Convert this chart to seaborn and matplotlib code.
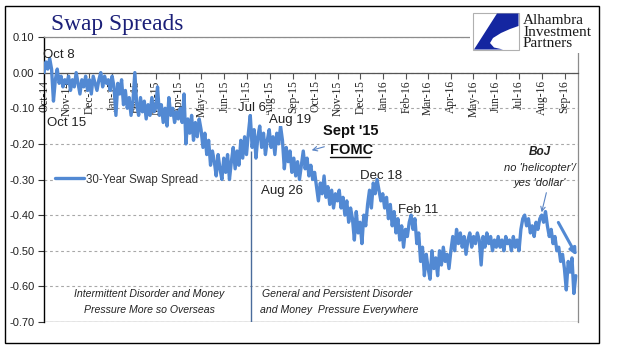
import matplotlib
matplotlib.use('Agg')
import matplotlib.pyplot as plt
import matplotlib.dates as mdates
import matplotlib.patches as mpatches
from matplotlib.lines import Line2D
import pandas as pd
import seaborn as sns

# ---------------- data ----------------
series_name = "30-Year Swap Spread"
start_date = "2014-10-01"
end_date = "2016-09-16"
x_min = "2014-10-01"
x_max = "2016-09-19"
y_ticks = [0.10, 0.00, -0.10, -0.20, -0.30, -0.40, -0.50, -0.60, -0.70]

oct14 = [0.00, 0.03, 0.01, 0.04, 0.01, -0.08, -0.02, 0.01, -0.03, -0.01, -0.04, -0.02]
nov14 = [-0.03, -0.01, -0.05, -0.02, -0.04, 0.00, -0.03, -0.06, -0.02, -0.04, -0.01, -0.05]
dec14 = [-0.02, -0.06, -0.01, -0.03, -0.05, -0.02, 0.00, -0.04, -0.01, -0.03, -0.02, -0.05]
jan15 = [-0.01, -0.04, -0.12, -0.03, -0.06, -0.02, -0.09, -0.05, -0.10, -0.07, -0.12, -0.08]
feb15 = [0.00, -0.09, -0.12, -0.07, -0.11, -0.08, -0.13, -0.09, -0.12, -0.07, -0.11, -0.10]
mar15 = [-0.04, -0.12, -0.09, -0.14, -0.10, -0.15, -0.07, -0.12, -0.10, -0.14, -0.11, -0.13]
apr15 = [-0.10, -0.14, -0.06, -0.20, -0.13, -0.17, -0.12, -0.19, -0.14, -0.18, -0.13, -0.16]
may15 = [-0.21, -0.17, -0.23, -0.19, -0.26, -0.22, -0.25, -0.29, -0.23, -0.27, -0.30, -0.24]
jun15 = [-0.28, -0.23, -0.30, -0.25, -0.21, -0.27, -0.22, -0.26, -0.19, -0.24, -0.18, -0.23]
jul15 = [-0.17, -0.12, -0.21, -0.16, -0.24, -0.18, -0.15, -0.21, -0.17, -0.23, -0.19, -0.16]
aug15 = [-0.21, -0.18, -0.23, -0.17, -0.20, -0.15, -0.19, -0.27, -0.21, -0.25, -0.22, -0.28]
sep15 = [-0.24, -0.29, -0.25, -0.30, -0.26, -0.22, -0.27, -0.24, -0.29, -0.26, -0.30, -0.28]
oct15 = [-0.32, -0.36, -0.31, -0.34, -0.29, -0.35, -0.32, -0.37, -0.33, -0.38, -0.34, -0.36]
nov15 = [-0.33, -0.38, -0.35, -0.40, -0.36, -0.42, -0.38, -0.41, -0.47, -0.39, -0.45, -0.42]
dec15 = [-0.48, -0.40, -0.43, -0.37, -0.33, -0.38, -0.31, -0.34, -0.30, -0.33, -0.36, -0.34]
jan16 = [-0.38, -0.35, -0.41, -0.37, -0.43, -0.39, -0.45, -0.41, -0.47, -0.43, -0.49, -0.44]
feb16 = [-0.46, -0.42, -0.40, -0.44, -0.41, -0.48, -0.45, -0.53, -0.49, -0.57, -0.51, -0.55]
mar16 = [-0.58, -0.50, -0.55, -0.52, -0.57, -0.50, -0.54, -0.49, -0.53, -0.51, -0.55, -0.50]
apr16 = [-0.46, -0.50, -0.44, -0.48, -0.45, -0.49, -0.46, -0.51, -0.47, -0.45, -0.49, -0.46]
may16 = [-0.48, -0.45, -0.47, -0.54, -0.46, -0.49, -0.45, -0.48, -0.46, -0.50, -0.47, -0.49]
jun16 = [-0.46, -0.49, -0.47, -0.50, -0.46, -0.48, -0.47, -0.50, -0.46, -0.49, -0.47, -0.50]
jul16 = [-0.44, -0.41, -0.40, -0.43, -0.41, -0.45, -0.43, -0.46, -0.42, -0.44, -0.41, -0.40]
aug16 = [-0.42, -0.39, -0.43, -0.46, -0.44, -0.48, -0.46, -0.50, -0.49, -0.53, -0.51, -0.55]
sep16 = [-0.61, -0.53, -0.56, -0.52, -0.62, -0.57]

spread = (oct14 + nov14 + dec14 + jan15 + feb15 + mar15 + apr15 + may15 + jun15
          + jul15 + aug15 + sep15 + oct15 + nov15 + dec15 + jan16 + feb16 + mar16
          + apr16 + may16 + jun16 + jul16 + aug16 + sep16)

regime_change_date = "2015-07-07"
regime_line_top = -0.22

# ---------------- styling ----------------
W, H = 622, 361
LINE = '#5289d3'
NAVY = '#1b1f78'
TXT = '#222222'
GRAY = '#8c8c8c'


def F(x, y):
    return (x / W, 1 - y / H)


sns.set_theme(style='white')
plt.rcParams['font.family'] = ['Liberation Sans', 'DejaVu Sans']

fig = plt.figure(figsize=(W / 100, H / 100), dpi=100)
fig.patch.set_facecolor('white')
ax = fig.add_axes([44 / W, 1 - 322 / H, (578 - 44) / W, (322 - 37) / H])

dates = pd.date_range(start_date, end_date, periods=len(spread))
df = pd.DataFrame({'date': dates, 'spread': spread})
sns.lineplot(data=df, x='date', y='spread', ax=ax, color=LINE, lw=2.4,
             label=series_name, zorder=4)

ax.set_xlim(pd.Timestamp(x_min), pd.Timestamp(x_max))
ax.set_ylim(-0.70, 0.10)
ax.set_xlabel('')
ax.set_ylabel('')

# y axis
ax.set_yticks(y_ticks)
ax.set_yticklabels([f'{v:.2f}' for v in y_ticks])
ax.tick_params(axis='y', which='both', left=True, direction='out', length=4,
               width=0.8, color='#333333', labelsize=8, labelcolor=TXT, pad=3)
ax.yaxis.grid(True, ls=(0, (2.5, 2.5)), color='#a8a8a8', lw=0.8)
ax.xaxis.grid(False)

# x axis at zero
ax.spines['bottom'].set_position(('data', 0))
ax.spines['bottom'].set_color('#555555')
ax.spines['bottom'].set_linewidth(0.9)
ax.spines['left'].set_color('black')
ax.spines['left'].set_linewidth(1.0)
ax.spines['top'].set_color(GRAY)
ax.spines['top'].set_linewidth(0.9)
ax.spines['right'].set_color(GRAY)
ax.spines['right'].set_linewidth(0.9)
ax.axhline(-0.70, color=GRAY, lw=1.0, zorder=3)

ax.xaxis.set_major_locator(mdates.MonthLocator())
ax.xaxis.set_major_formatter(mdates.DateFormatter('%b-%y'))
ax.tick_params(axis='x', which='both', bottom=True, direction='out', length=4,
               width=0.8, color='#555555', pad=1.5)
for lab in ax.get_xticklabels():
    lab.set_rotation(90)
    lab.set_fontfamily('Liberation Serif')
    lab.set_fontsize(8.3)
    lab.set_color(TXT)
    lab.set_zorder(2)

# regime vertical line
ax.vlines(pd.Timestamp(regime_change_date), -0.70, regime_line_top,
          color='#4a6c9c', lw=1.0, zorder=3)

# legend
leg = ax.legend(loc='center left', bbox_to_anchor=(0.018, 0.5), frameon=True,
                facecolor='white', edgecolor='none', framealpha=1, fontsize=8.3,
                handlelength=2.5, borderpad=0.15, handletextpad=0.15,
                borderaxespad=0)
for t in leg.get_texts():
    t.set_color('#333333')

# ---------------- annotations ----------------
def ftext(x, y, s, **kw):
    kw.setdefault('color', TXT)
    kw.setdefault('va', 'center')
    return fig.text(*F(x, y), s, **kw)

white = dict(facecolor='white', edgecolor='none', pad=0.3)
ftext(43, 55, 'Oct 8', fontsize=9.5, ha='left')
ftext(47, 123, 'Oct 15', fontsize=9.5, ha='left')
ftext(238, 108, 'Jul 6', fontsize=9.5, ha='left', bbox=white)
ftext(269, 120, 'Aug 19', fontsize=9.5, ha='left', bbox=white)
ftext(261, 191, 'Aug 26', fontsize=9.5, ha='left')
ftext(323, 131, "Sept '15", fontsize=10.5, ha='left', fontweight='bold', color='#111111')
ftext(330, 150, 'FOMC', fontsize=10.5, ha='left', fontweight='bold', color='#111111')
fig.add_artist(Line2D([330 / W, 370 / W], [1 - 157.5 / H, 1 - 157.5 / H],
                      color='#111111', lw=1.0, transform=fig.transFigure))
ftext(360, 176, 'Dec 18', fontsize=9.5, ha='left')
ftext(398, 210, 'Feb 11', fontsize=9.5, ha='left')
ftext(540, 152, 'BoJ', fontsize=8.5, ha='center', fontweight='bold', fontstyle='italic')
ftext(540, 168, "no 'helicopter'/", fontsize=8, ha='center', fontstyle='italic')
ftext(540, 183, "yes 'dollar'", fontsize=8, ha='center', fontstyle='italic')

ftext(149, 294, 'Intermittent Disorder and Money', fontsize=7.6, ha='center', fontstyle='italic')
ftext(149, 310, 'Pressure More so Overseas', fontsize=7.6, ha='center', fontstyle='italic')
ftext(262, 294, 'General and Persistent Disorder', fontsize=7.6, ha='left', fontstyle='italic')
ftext(260, 310, 'and Money  Pressure Everywhere', fontsize=7.6, ha='left', fontstyle='italic')

# arrows
fig.add_artist(mpatches.FancyArrowPatch(F(327, 146), F(309, 151), transform=fig.transFigure,
                                        arrowstyle='->', mutation_scale=8, color='#5a84c4', lw=0.8))
fig.add_artist(mpatches.FancyArrowPatch(F(547, 190), F(541, 215), transform=fig.transFigure,
                                        arrowstyle='->', mutation_scale=8, color='#5a84c4', lw=0.8))
fig.add_artist(mpatches.FancyArrowPatch(F(557, 220), F(578, 258), transform=fig.transFigure,
                                        arrowstyle='-|>', mutation_scale=10, color=LINE, lw=2.2))

# title
fig.text(*F(51, 30), 'Swap Spreads', fontsize=16.8, fontfamily='Liberation Serif',
         color=NAVY, ha='left', va='baseline')

# logo
fig.add_artist(mpatches.Rectangle(F(470, 53), 128 / W, 46 / H, transform=fig.transFigure,
                                  facecolor='white', edgecolor='none', zorder=2))
fig.add_artist(mpatches.Rectangle(F(473, 50), 46 / W, 37 / H, transform=fig.transFigure,
                                  facecolor='white', edgecolor='#b0b0b0', lw=0.8, zorder=3))
shape_px = [(497, 13.5), (518.5, 13.5), (518.5, 26), (510, 29), (501, 33), (493, 38),
            (490, 43), (494, 47.5), (503, 49.5), (474, 49.5)]
fig.add_artist(mpatches.Polygon([F(x, y) for x, y in shape_px], closed=True,
                                transform=fig.transFigure, facecolor='#1426a0',
                                edgecolor='none', zorder=4))
for yy, s in [(20, 'Alhambra'), (32, 'Investment'), (43.5, 'Partners')]:
    fig.text(*F(523, yy), s, fontsize=11, fontfamily='Liberation Serif',
             color='#1a1a1a', ha='left', va='center', zorder=5)

# outer border
fig.add_artist(mpatches.Rectangle(F(5, 343), 594 / W, 337 / H, transform=fig.transFigure,
                                  fill=False, edgecolor='black', lw=1.0, zorder=6))

fig.savefig('out.png', dpi=100, facecolor='white')
